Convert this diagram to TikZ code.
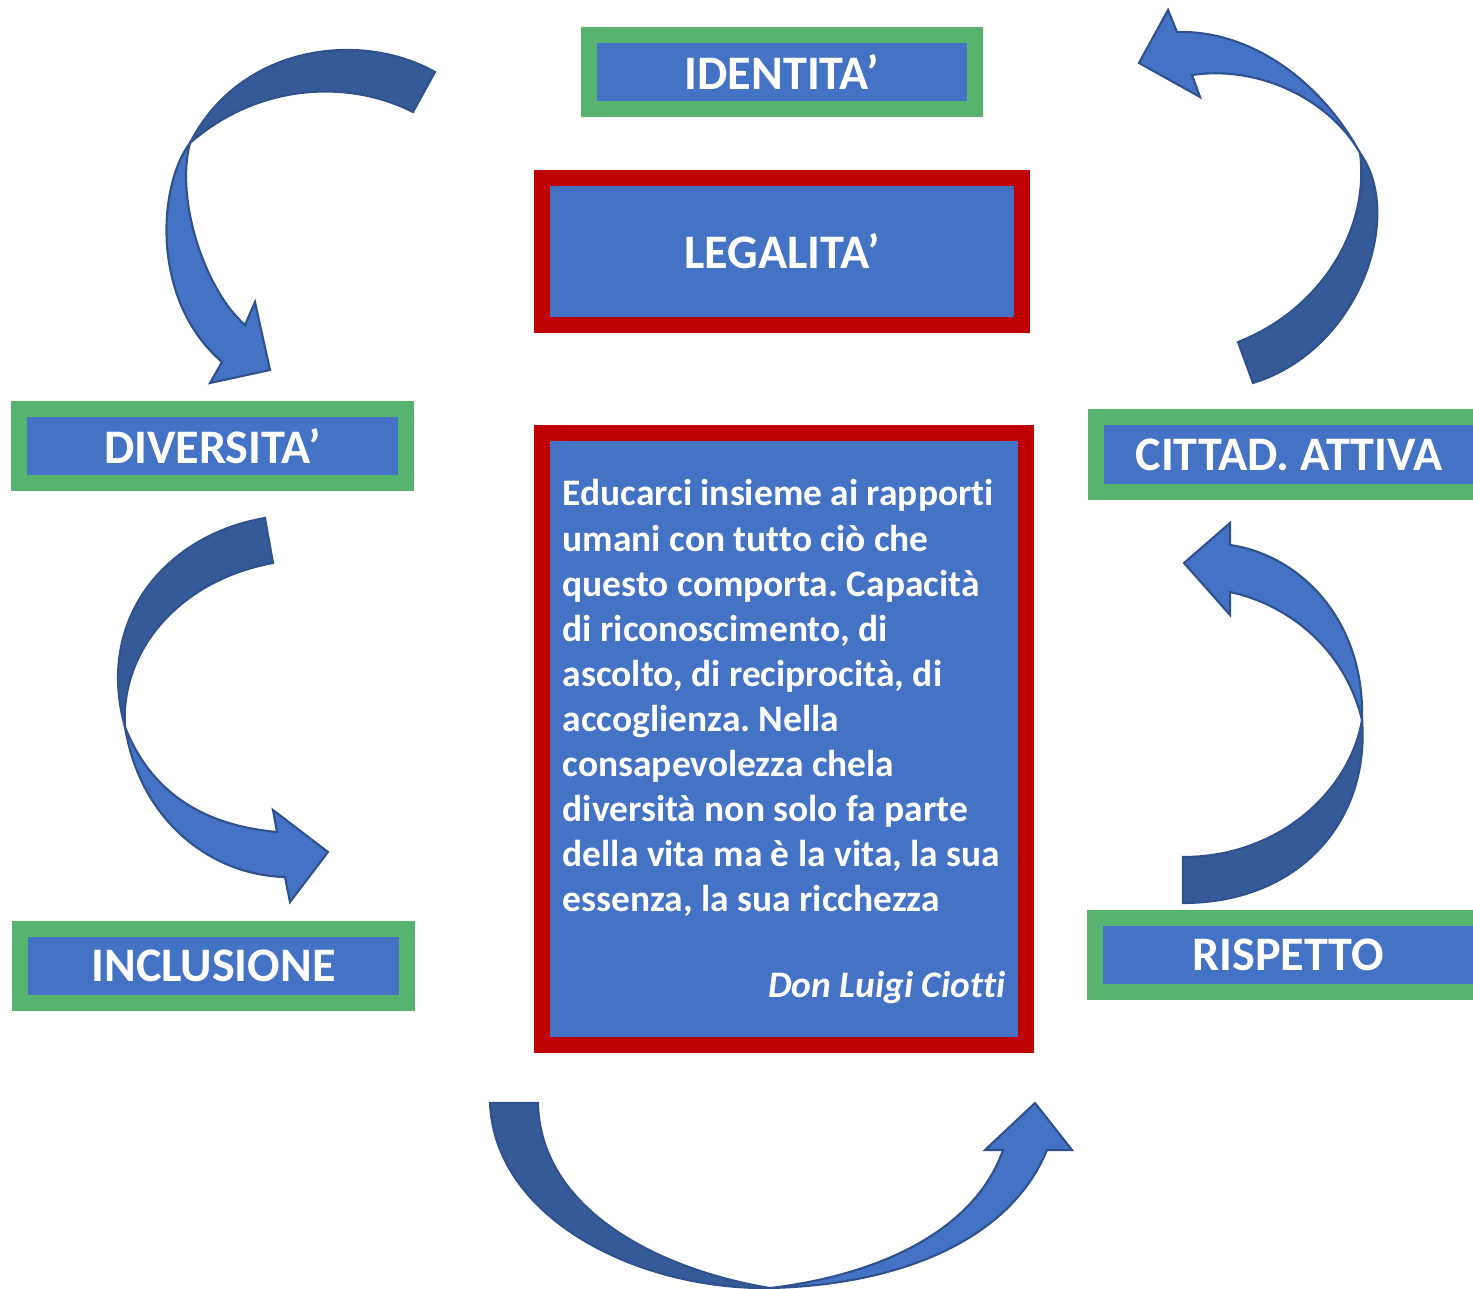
\documentclass[tikz,border=0pt]{standalone}
\usepackage{fontspec}
\setmainfont{Carlito}[Ligatures={NoCommon,NoContextual},Contextuals=NoAlternate]
\usepackage{tikz}
\usetikzlibrary{shapes.geometric}
\usetikzlibrary{arrows,shapes}
\definecolor{boxblue}{HTML}{4472C4}
\definecolor{boxgreen}{HTML}{57B46E}
\definecolor{boxred}{HTML}{C00000}
\definecolor{arrowdark}{HTML}{345A98}
\definecolor{arrowedge}{HTML}{2F528F}
\frenchspacing

\begin{document}
\begin{tikzpicture}[x=0.01cm,y=-0.01cm]
\tikzstyle{greenbox}=[rectangle, draw=boxgreen, fill=boxblue, line width=0.16cm,
    minimum width=3.86cm, minimum height=0.74cm, text=white,
    font=\fontsize{13.7}{15}\selectfont\bfseries]
\tikzstyle{redbox}=[rectangle, draw=boxred, fill=boxblue, line width=0.16cm, text=white]
\tikzstyle{backside}=[fill=arrowdark, draw=arrowedge, line width=0.6pt]
\tikzstyle{frontside}=[fill=boxblue, draw=arrowedge, line width=0.6pt]
\useasboundingbox (0,0) rectangle (1473,1288);
\clip (0,0) rectangle (1473,1288);

    \node[greenbox] (identita) at (782,72) {IDENTITA’};
    \node[redbox, minimum width=4.80cm, minimum height=1.47cm,
    font=\fontsize{13.7}{15}\selectfont\bfseries] (legalita) at (782,251.5) {LEGALITA’};
    \node[greenbox] (diversita) at (212.5,446) {DIVERSITA’};
    \node[greenbox] (inclusione) at (213.5,966) {INCLUSIONE};
    \node[greenbox] (cittad) at (1289,454.5) {CITTAD. ATTIVA};
    \node[greenbox] (rispetto) at (1288,955) {RISPETTO};

    \node[redbox, minimum width=4.84cm, minimum height=6.12cm] (citazione) at (784,739) {};
    \node[text=white, align=left, anchor=north west, inner sep=0,
    font=\fontsize{10.65}{12.8}\selectfont\bfseries] (testo) at (562,479)
    {Educarci insieme ai rapporti\\
     umani con tutto ciò che\\
     questo comporta. Capacità\\
     di riconoscimento, di\\
     ascolto, di reciprocità, di\\
     accoglienza. Nella\\
     consapevolezza chela\\
     diversità non solo fa parte\\
     della vita ma è la vita, la sua\\
     essenza, la sua ricchezza};
    \node[text=white, anchor=east, inner sep=0,
    font=\fontsize{10.65}{12.8}\selectfont\bfseries\itshape] (autore) at (1006,988) {Don Luigi Ciotti};

% identita -> diversita
\draw[backside] (413,112) -- (435,72) .. controls (360,30) and (240,45) .. (190,143)
    .. controls (260,82) and (350,80) .. (413,112) -- cycle;
\draw[frontside] (190,143) .. controls (158,185) and (150,300) .. (222,362)
    -- (210,383) -- (270,370) -- (255,302) -- (245,325)
    .. controls (205,290) and (175,200) .. (190,143) -- cycle;

% diversita -> inclusione
\draw[backside] (273,563) -- (265,518) .. controls (165,535) and (95,620) .. (125,727)
    .. controls (120,650) and (180,580) .. (273,563) -- cycle;
\draw[frontside] (125,727) .. controls (140,820) and (210,875) .. (285,877)
    -- (290,902) -- (328,852) -- (273,810) -- (277,832)
    .. controls (200,825) and (150,790) .. (125,727) -- cycle;

% inclusione -> rispetto
\draw[backside] (538,1103) -- (490,1103) .. controls (495,1220) and (640,1290) .. (770,1288)
    .. controls (660,1270) and (540,1210) .. (538,1103) -- cycle;
\draw[frontside] (770,1288) .. controls (900,1285) and (1010,1240) .. (1047,1150)
    -- (1072,1150) -- (1035,1103) -- (985,1150) -- (1003,1150)
    .. controls (975,1230) and (880,1275) .. (770,1288) -- cycle;

% rispetto -> cittad
\draw[backside] (1183,857) -- (1183,903) .. controls (1300,903) and (1370,820) .. (1362,720)
    .. controls (1350,790) and (1280,857) .. (1183,857) -- cycle;
\draw[frontside] (1362,720) .. controls (1365,620) and (1300,555) .. (1230,545)
    -- (1230,523) -- (1184,563) -- (1230,615) -- (1230,592)
    .. controls (1290,605) and (1345,650) .. (1362,720) -- cycle;

% cittad -> identita
\draw[backside] (1238,342) -- (1253,383) .. controls (1360,350) and (1405,215) .. (1360,153)
    .. controls (1370,230) and (1320,310) .. (1238,342) -- cycle;
\draw[frontside] (1360,153) .. controls (1320,80) and (1250,30) .. (1177,32)
    -- (1168,10) -- (1139,63) -- (1200,97) -- (1192,75)
    .. controls (1260,65) and (1330,100) .. (1360,153) -- cycle;
\end{tikzpicture}
\end{document}
